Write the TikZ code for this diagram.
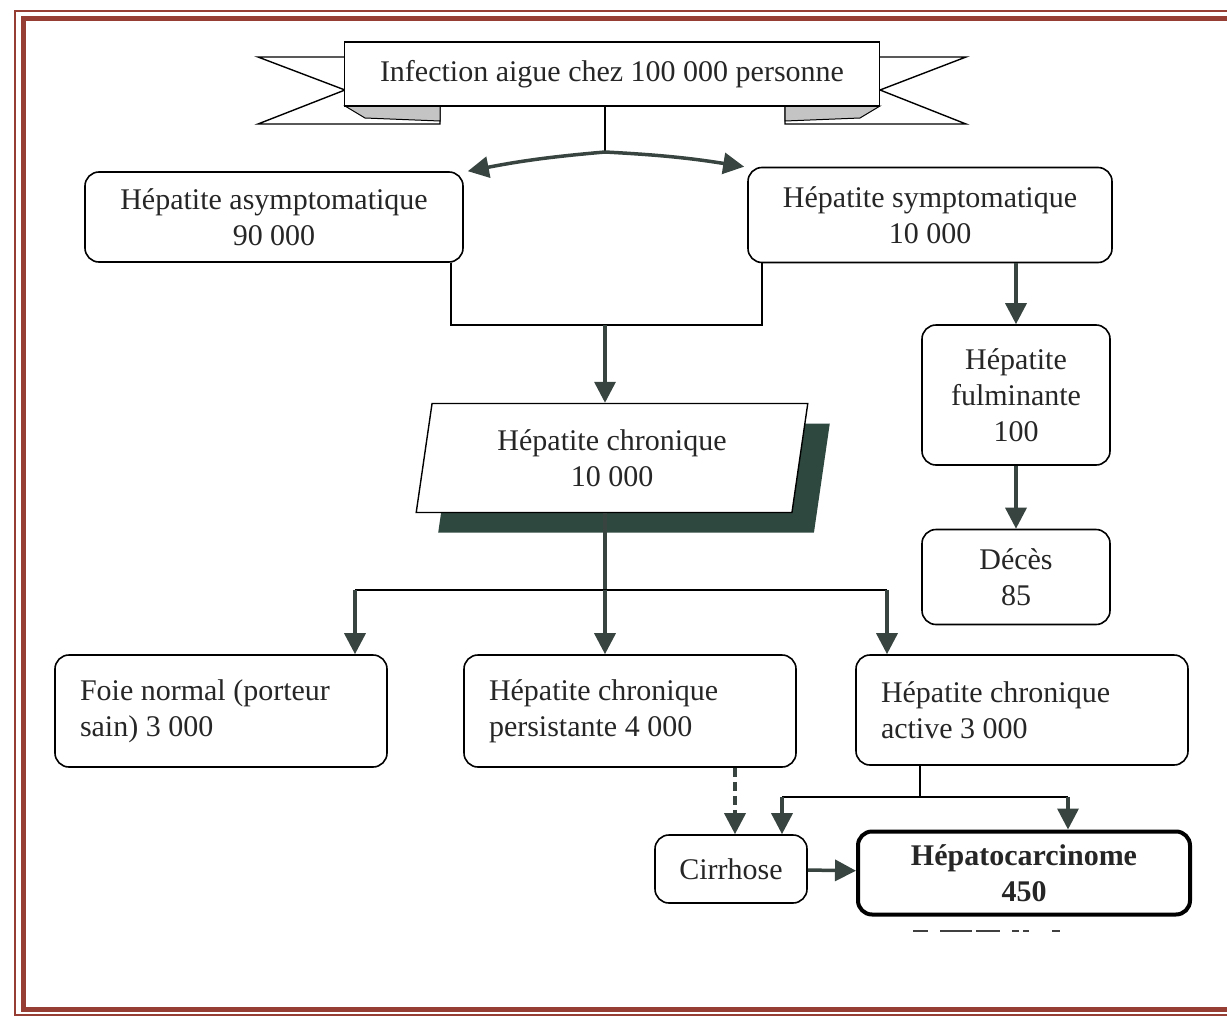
\documentclass[tikz,border=0pt]{standalone}
\usepackage{fontspec}
\setmainfont{Liberation Serif}
\usepackage{tikz}
\usetikzlibrary{shapes.geometric}
\usetikzlibrary{arrows.meta}
\usetikzlibrary{positioning}
\usetikzlibrary{shadows,calc}

\definecolor{framered}{RGB}{150,62,52}
\definecolor{flowgray}{RGB}{55,68,64}
\definecolor{shadowgreen}{RGB}{46,72,64}
\definecolor{foldgray}{RGB}{196,196,196}

\begin{document}
\begin{tikzpicture}[x=1pt, y=-1pt,
    every node/.style={font=\fontsize{30}{36}\selectfont, text=black!85},
    box/.style={rectangle, rounded corners=14pt, draw, line width=1.6pt,
                align=center, inner sep=0pt},
    lbox/.style={box, align=flush left, inner xsep=25pt, text width=282pt},
    link/.style={line width=1.8pt},
    flow/.style={->, line width=3.5pt, draw=flowgray},
  ]
\tikzset{>={Triangle[length=21pt, width=21pt]}}
  \useasboundingbox (0,0) rectangle (1227,1017);

  % cadre
  \draw[framered, line width=2pt] (15,11) rectangle (1240,1015);
  \draw[framered, line width=5pt] (23,18) rectangle (1240,1009);

  % ruban du titre
  \draw[line width=1.4pt, fill=white] (258,57) -- (440,57) -- (440,124) -- (258,124) -- (345,90) -- cycle;
  \draw[line width=1.4pt, fill=white] (966,57) -- (785,57) -- (785,124) -- (966,124) -- (880,90) -- cycle;
  \draw[line width=1pt, fill=foldgray] (345,106) -- (440,106) -- (440,121) -- (365,118) -- cycle;
  \draw[line width=1pt, fill=foldgray] (880,106) -- (785,106) -- (785,121) -- (860,118) -- cycle;
  \node[draw, line width=1.4pt, fill=white, minimum width=535pt, minimum height=64pt,
        inner sep=0pt] (banner) at (612,74) {Infection aigue chez 100 000 personne};

  \node[box, minimum width=378pt, minimum height=90pt] (asym) at (274,217)
       {Hépatite asymptomatique\\90 000};
  \node[box, minimum width=364pt, minimum height=95pt] (sym) at (930,215)
       {Hépatite symptomatique\\10 000};
  \node[trapezium, trapezium left angle=80, trapezium right angle=100,
        trapezium stretches=true, draw, line width=1.4pt, fill=white,
        minimum width=393pt, minimum height=109pt, align=center, inner sep=0pt,
        drop shadow={shadow xshift=22pt, shadow yshift=-20pt,
                     fill=shadowgreen, opacity=1}] (chron) at (612,458)
       {Hépatite chronique\\10 000};
  \node[box, minimum width=188pt, minimum height=140pt] (fulmi) at (1016,395)
       {Hépatite\\fulminante\\100};
  \node[box, minimum width=188pt, minimum height=95pt] (deces) at (1016,577)
       {Décès\\85};
  \node[lbox, minimum height=112pt] (foie) at (221,711)
       {Foie normal (porteur\\sain) 3 000};
  \node[lbox, minimum height=112pt] (persist) at (630,711)
       {Hépatite chronique\\persistante 4 000};
  \node[lbox, minimum height=110pt] (active) at (1022,710)
       {Hépatite chronique\\active 3 000};
  \node[box, minimum width=152pt, minimum height=68pt] (cirr) at (731,869) {Cirrhose};
  \node[box, line width=4pt, minimum width=332pt, minimum height=83pt,
        font=\fontsize{30}{36}\selectfont\bfseries] (hepca) at (1024,873)
       {Hépatocarcinome\\450};

  % liaisons
  \coordinate (split) at (605,152);
  \coordinate (merge) at (605,325);
  \coordinate (fork)  at (605,590);
  \coordinate (f1)    at (355,590);
  \coordinate (f3)    at (887,590);
  \coordinate (dash)  at (735,800);
  \coordinate (knot)  at (920,797);
  \coordinate (k1)    at (782,797);
  \coordinate (k2)    at (1068,797);

  \draw[link] (banner.south -| split) -- (split);
  \draw[flow] (split) to[bend right=3] ($(asym.north east)+(4,0)$);
  \draw[flow] (split) to[bend left=3] ($(sym.north west)+(-3,0)$);
  \draw[link] ($(asym.south east)+(-13,0)$) |- (merge) -| ($(sym.south west)+(15,0)$);
  \draw[flow] (merge) -- (merge |- chron.north);
  \draw[flow, -] (fork |- chron.south) -- (fork);
  \draw[link] (f1) -- (f3);
  \draw[flow] (f1) -- (f1 |- foie.north);
  \draw[flow] (fork) -- (fork |- persist.north);
  \draw[flow] (f3) -- (f3 |- active.north);
  \draw[flow] (sym.south -| fulmi) -- (fulmi.north);
  \draw[flow] (fulmi.south) -- (deces.north);
  \draw[flow, dash pattern=on 9pt off 5pt] (persist.south -| dash) -- (dash |- cirr.north);
  \draw[link] (active.south -| knot) -- (knot);
  \draw[link] (k1) -- (k2);
  \draw[flow] (k1) -- (k1 |- cirr.north);
  \draw[flow] (k2) -- (k2 |- hepca.north);
  \draw[flow] (cirr) -- (hepca);

  % traits sous la boite
  \foreach \a/\b in {913/928, 940/972, 976/1000, 1012/1019, 1023/1029, 1052/1060}
    \draw[black!75, line width=2pt] (\a,931) -- (\b,931);
\end{tikzpicture}
\end{document}
